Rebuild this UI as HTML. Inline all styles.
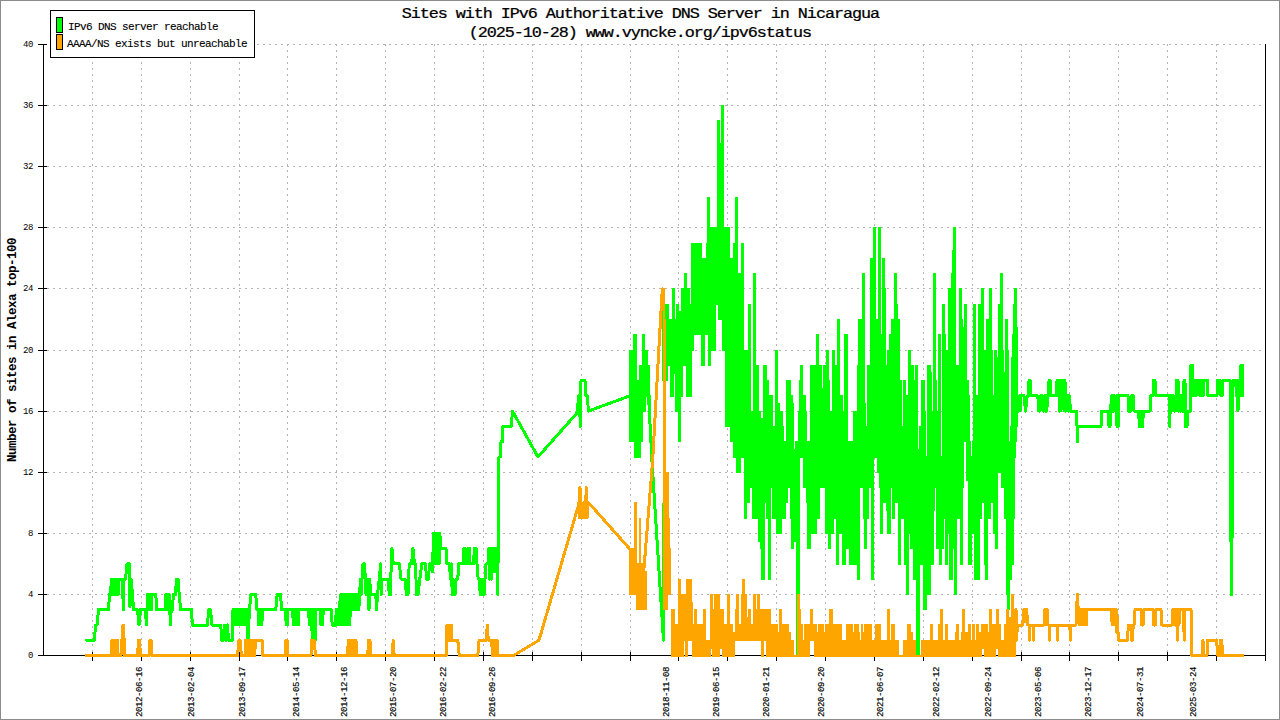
<!DOCTYPE html>
<html><head><meta charset="utf-8"><title>Sites with IPv6 Authoritative DNS Server in Nicaragua</title>
<style>
html,body{margin:0;padding:0;background:#fff;}
body{width:1280px;height:720px;overflow:hidden;position:relative;font-family:"Liberation Mono",monospace;}
svg{position:absolute;left:0;top:0;}
text{font-family:"Liberation Mono",monospace;fill:#000;}
.t{font-size:15px;letter-spacing:-0.96px;text-anchor:middle;stroke:#000;stroke-width:0.25px;}
.lg{font-size:11px;letter-spacing:-0.6px;stroke:#000;stroke-width:0.12px;}
.yl{font-size:9px;letter-spacing:-0.4px;text-anchor:end;}
.xl{font-size:9px;letter-spacing:-0.4px;text-anchor:end;stroke:#000;stroke-width:0.15px;}
.yt{font-size:12.5px;letter-spacing:-0.5px;font-weight:bold;text-anchor:middle;}
</style></head><body>
<svg width="1280" height="720" viewBox="0 0 1280 720">
<rect x="0" y="0" width="1280" height="720" fill="#fff"/>
<g stroke="#b4b4b4" stroke-width="1" stroke-dasharray="2 4" shape-rendering="crispEdges"><line x1="47" y1="594.5" x2="1265" y2="594.5"/><line x1="47" y1="533.5" x2="1265" y2="533.5"/><line x1="47" y1="472.5" x2="1265" y2="472.5"/><line x1="47" y1="411.5" x2="1265" y2="411.5"/><line x1="47" y1="350.5" x2="1265" y2="350.5"/><line x1="47" y1="288.5" x2="1265" y2="288.5"/><line x1="47" y1="227.5" x2="1265" y2="227.5"/><line x1="47" y1="166.5" x2="1265" y2="166.5"/><line x1="47" y1="105.5" x2="1265" y2="105.5"/><line x1="53" y1="44.5" x2="1265" y2="44.5"/><line x1="92.5" y1="44" x2="92.5" y2="652" stroke-dashoffset="0"/><line x1="141.5" y1="44" x2="141.5" y2="652" stroke-dashoffset="0"/><line x1="190.5" y1="44" x2="190.5" y2="652" stroke-dashoffset="0"/><line x1="239.5" y1="44" x2="239.5" y2="652" stroke-dashoffset="0"/><line x1="287.5" y1="44" x2="287.5" y2="652" stroke-dashoffset="0"/><line x1="336.5" y1="44" x2="336.5" y2="652" stroke-dashoffset="0"/><line x1="385.5" y1="44" x2="385.5" y2="652" stroke-dashoffset="0"/><line x1="434.5" y1="44" x2="434.5" y2="652" stroke-dashoffset="0"/><line x1="483.5" y1="44" x2="483.5" y2="652" stroke-dashoffset="0"/><line x1="532.5" y1="44" x2="532.5" y2="652" stroke-dashoffset="0"/><line x1="581.5" y1="44" x2="581.5" y2="652" stroke-dashoffset="0"/><line x1="630.5" y1="44" x2="630.5" y2="652" stroke-dashoffset="0"/><line x1="678.5" y1="44" x2="678.5" y2="652" stroke-dashoffset="0"/><line x1="727.5" y1="44" x2="727.5" y2="652" stroke-dashoffset="0"/><line x1="776.5" y1="44" x2="776.5" y2="652" stroke-dashoffset="0"/><line x1="825.5" y1="44" x2="825.5" y2="652" stroke-dashoffset="0"/><line x1="874.5" y1="44" x2="874.5" y2="652" stroke-dashoffset="0"/><line x1="923.5" y1="44" x2="923.5" y2="652" stroke-dashoffset="0"/><line x1="972.5" y1="44" x2="972.5" y2="652" stroke-dashoffset="0"/><line x1="1021.5" y1="44" x2="1021.5" y2="652" stroke-dashoffset="0"/><line x1="1069.5" y1="44" x2="1069.5" y2="652" stroke-dashoffset="0"/><line x1="1118.5" y1="44" x2="1118.5" y2="652" stroke-dashoffset="0"/><line x1="1167.5" y1="44" x2="1167.5" y2="652" stroke-dashoffset="0"/><line x1="1216.5" y1="44" x2="1216.5" y2="652" stroke-dashoffset="0"/><line x1="1265.5" y1="44" x2="1265.5" y2="652" stroke-dashoffset="0"/></g>
<g stroke="#000" stroke-width="1" shape-rendering="crispEdges"><line x1="43.5" y1="44" x2="43.5" y2="656"/><line x1="43" y1="655.5" x2="1266" y2="655.5"/><line x1="1265.5" y1="44" x2="1265.5" y2="656"/><line x1="38" y1="655.5" x2="47" y2="655.5"/><line x1="38" y1="594.5" x2="47" y2="594.5"/><line x1="38" y1="533.5" x2="47" y2="533.5"/><line x1="38" y1="472.5" x2="47" y2="472.5"/><line x1="38" y1="411.5" x2="47" y2="411.5"/><line x1="38" y1="350.5" x2="47" y2="350.5"/><line x1="38" y1="288.5" x2="47" y2="288.5"/><line x1="38" y1="227.5" x2="47" y2="227.5"/><line x1="38" y1="166.5" x2="47" y2="166.5"/><line x1="38" y1="105.5" x2="47" y2="105.5"/><line x1="38" y1="44.5" x2="47" y2="44.5"/><line x1="92.5" y1="652" x2="92.5" y2="661"/><line x1="141.5" y1="652" x2="141.5" y2="661"/><line x1="190.5" y1="652" x2="190.5" y2="661"/><line x1="239.5" y1="652" x2="239.5" y2="661"/><line x1="287.5" y1="652" x2="287.5" y2="661"/><line x1="336.5" y1="652" x2="336.5" y2="661"/><line x1="385.5" y1="652" x2="385.5" y2="661"/><line x1="434.5" y1="652" x2="434.5" y2="661"/><line x1="483.5" y1="652" x2="483.5" y2="661"/><line x1="532.5" y1="652" x2="532.5" y2="661"/><line x1="581.5" y1="652" x2="581.5" y2="661"/><line x1="630.5" y1="652" x2="630.5" y2="661"/><line x1="678.5" y1="652" x2="678.5" y2="661"/><line x1="727.5" y1="652" x2="727.5" y2="661"/><line x1="776.5" y1="652" x2="776.5" y2="661"/><line x1="825.5" y1="652" x2="825.5" y2="661"/><line x1="874.5" y1="652" x2="874.5" y2="661"/><line x1="923.5" y1="652" x2="923.5" y2="661"/><line x1="972.5" y1="652" x2="972.5" y2="661"/><line x1="1021.5" y1="652" x2="1021.5" y2="661"/><line x1="1069.5" y1="652" x2="1069.5" y2="661"/><line x1="1118.5" y1="652" x2="1118.5" y2="661"/><line x1="1167.5" y1="652" x2="1167.5" y2="661"/><line x1="1216.5" y1="652" x2="1216.5" y2="661"/><line x1="1265.5" y1="652" x2="1265.5" y2="661"/></g>
<polyline fill="none" stroke="#00ff00" stroke-width="3" stroke-linejoin="round" stroke-linecap="round" shape-rendering="crispEdges" points="86.4,640.2 94.5,640.2 95.5,625.0 97.0,625.0 98.5,609.7 108.5,609.7 109.5,594.4 110.5,594.4 111.5,579.1 112.0,594.4 112.8,579.1 113.6,594.4 114.4,579.1 115.2,594.4 116.0,579.1 116.8,594.4 117.6,579.1 118.4,594.4 118.8,579.1 122.5,579.1 123.3,609.7 124.0,579.1 125.5,579.1 127.0,563.9 129.5,563.9 130.0,606.6 131.0,579.1 132.5,594.4 133.5,609.7 137.5,609.7 139.0,625.0 140.5,609.7 145.5,609.7 146.4,625.0 147.5,594.4 148.2,609.7 149.0,594.4 149.8,609.7 150.6,594.4 151.4,609.7 152.0,594.4 155.8,594.4 156.6,609.7 165.3,609.7 166.0,594.4 166.8,609.7 167.6,594.4 168.4,609.7 169.2,594.4 170.4,625.0 171.2,609.7 172.5,609.7 173.3,594.4 175.5,594.4 176.5,579.1 178.0,579.1 179.2,594.4 180.6,609.7 191.6,609.7 192.3,625.0 207.6,625.0 208.5,609.7 210.5,609.7 212.0,625.0 220.7,625.0 221.8,640.2 223.5,640.2 224.4,625.0 225.2,640.2 226.0,625.0 226.8,640.2 227.6,625.0 228.4,640.2 232.4,640.2 233.0,609.7 233.8,625.0 234.6,609.7 235.4,625.0 236.2,609.7 237.0,625.0 237.8,609.7 238.6,625.0 239.4,609.7 240.2,625.0 241.0,609.7 241.8,625.0 242.6,609.7 243.4,625.0 244.2,609.7 245.0,625.0 245.8,609.7 246.6,625.0 247.4,609.7 248.0,640.2 249.5,609.7 250.8,594.4 255.7,594.4 257.0,609.7 258.3,609.7 258.8,625.0 259.6,609.7 260.4,625.0 261.2,609.7 261.8,625.0 262.6,609.7 275.8,609.7 277.2,594.4 280.7,594.4 281.4,609.7 285.5,609.7 286.2,625.0 287.0,609.7 287.6,625.0 288.0,609.7 292.5,609.7 293.5,625.0 294.3,609.7 295.1,625.0 295.9,609.7 296.7,625.0 297.5,609.7 298.3,625.0 299.1,609.7 300.0,609.7 308.5,609.7 309.5,625.0 310.2,609.7 311.0,625.0 311.6,609.7 312.2,640.2 313.0,609.7 313.8,640.2 314.5,609.7 315.2,640.2 316.0,609.7 320.3,609.7 321.0,625.0 322.0,609.7 322.6,625.0 323.2,609.7 331.4,609.7 332.2,625.0 335.5,625.0 336.3,609.7 337.0,625.0 337.8,609.7 338.6,625.0 339.4,602.0 340.2,625.0 341.0,594.4 341.8,625.0 342.6,594.4 343.4,625.0 344.2,594.4 345.0,625.0 345.8,594.4 346.6,625.0 347.4,594.4 348.2,625.0 349.0,594.4 349.8,625.0 350.6,594.4 351.6,594.4 352.4,609.7 353.2,594.4 354.0,609.7 354.8,594.4 355.6,609.7 356.4,594.4 357.2,609.7 358.0,594.4 358.8,609.7 359.6,594.4 360.5,579.1 361.3,594.4 362.0,579.1 363.0,563.9 364.5,563.9 365.4,579.1 366.0,594.4 366.8,579.1 367.6,594.4 368.4,579.1 369.0,609.7 369.8,579.1 370.5,594.4 371.7,594.4 375.8,594.4 376.5,609.7 377.5,594.4 379.3,579.1 380.7,563.9 381.3,594.4 382.0,579.1 388.0,579.1 389.3,594.4 390.5,594.4 391.2,563.9 392.0,548.6 393.2,563.9 394.6,563.9 399.4,563.9 401.0,579.1 405.0,579.1 406.5,594.4 408.0,594.4 409.2,563.9 411.5,563.9 413.0,548.6 414.5,563.9 415.5,563.9 416.5,594.4 418.0,594.4 419.8,579.1 421.8,563.9 425.5,563.9 426.6,579.1 428.5,579.1 429.5,563.9 431.5,563.9 432.5,571.5 433.5,533.3 434.3,563.9 435.1,533.3 435.9,563.9 436.7,533.3 437.5,563.9 438.3,533.3 439.1,563.9 439.9,533.3 440.5,548.6 446.0,548.6 447.0,563.9 449.5,563.9 450.5,579.1 451.5,563.9 452.2,594.4 453.0,579.1 453.8,594.4 455.0,594.4 456.0,579.1 457.8,579.1 458.7,563.9 463.0,563.9 463.8,548.6 465.2,548.6 465.8,563.9 468.0,563.9 468.6,548.6 469.4,548.6 470.0,563.9 473.6,563.9 474.3,548.6 476.2,548.6 477.0,563.9 478.2,579.1 479.5,579.1 480.2,594.4 481.0,579.1 481.8,594.4 482.6,579.1 483.4,594.4 484.2,594.4 485.0,579.1 486.0,563.9 488.0,563.9 488.9,548.6 489.7,579.1 490.5,548.6 491.3,579.1 492.1,548.6 492.9,563.9 493.7,548.6 494.5,571.5 495.3,548.6 496.1,563.9 496.9,548.6 497.7,594.4 498.5,518.0 499.0,456.9 500.5,456.9 501.0,441.6 502.5,441.6 503.0,426.4 511.3,426.4 512.5,411.1 538.0,456.9 578.7,411.1 577.5,411.1 578.5,395.8 579.6,395.8 580.2,426.4 581.0,380.6 585.0,380.6 585.8,395.8 587.5,395.8 588.3,411.1 630.0,395.8"/>
<path fill="#00ff00" shape-rendering="crispEdges" d="M629 350H633V442H629ZM633 334H634V442H633ZM634 334H637V458H634ZM637 380H639V458H637ZM639 365H641V458H639ZM641 365H642V442H641ZM642 334H643V442H642ZM643 334H645V412H643ZM645 350H646V412H645ZM646 350H648V397H646ZM648 365H650V412H648ZM650 395H651V412H650ZM662 304H668V381H662ZM668 304H669V366H668ZM669 319H670V366H669ZM670 319H672V397H670ZM672 288H674V397H672ZM674 288H675V374H674ZM675 319H676V412H675ZM676 304H678V412H676ZM678 304H679V442H678ZM679 311H681V442H679ZM681 288H683V397H681ZM683 288H684V366H683ZM684 273H686V366H684ZM686 273H687V397H686ZM687 288H690V397H687ZM690 304H691V397H690ZM691 243H692V397H691ZM692 243H694V351H692ZM694 243H701V335H694ZM701 243H702V366H701ZM702 258H705V366H702ZM705 258H706V335H705ZM706 243H707V335H706ZM707 197H708V335H707ZM708 197H710V366H708ZM710 227H711V366H710ZM711 227H716V351H711ZM716 227H717V305H716ZM717 120H718V305H717ZM718 120H720V320H718ZM720 143H721V320H720ZM721 105H722V320H721ZM722 105H724V351H722ZM724 227H725V351H724ZM725 227H730V427H725ZM730 258H733V442H730ZM733 243H735V458H733ZM735 197H736V458H735ZM736 197H738V473H736ZM738 273H741V473H738ZM741 243H744V458H741ZM744 350H747V519H744ZM747 350H748V503H747ZM748 304H750V503H748ZM750 304H751V488H750ZM751 411H752V488H751ZM752 411H753V519H752ZM753 273H756V519H753ZM756 365H758V519H756ZM758 365H759V542H758ZM759 411H760V542H759ZM760 411H761V549H760ZM761 418H763V580H761ZM763 365H765V580H763ZM765 365H766V503H765ZM766 365H767V519H766ZM767 380H768V519H767ZM768 380H769V580H768ZM769 395H771V580H769ZM771 395H772V488H771ZM772 395H773V519H772ZM773 426H775V519H773ZM775 350H776V519H775ZM776 350H778V534H776ZM778 403H780V534H778ZM780 411H782V534H780ZM782 411H783V519H782ZM783 426H784V519H783ZM784 441H786V519H784ZM786 380H788V503H786ZM788 380H790V488H788ZM790 380H791V519H790ZM791 395H793V549H791ZM793 403H794V549H793ZM794 449H795V542H794ZM795 441H796V542H795ZM796 441H797V657H796ZM797 441H798V595H797ZM798 411H799V595H798ZM799 380H800V595H799ZM800 365H803V458H800ZM803 395H806V488H803ZM806 411H807V503H806ZM807 441H810V549H807ZM810 365H811V549H810ZM811 365H816V534H811ZM816 334H817V534H816ZM817 334H819V519H817ZM819 365H820V519H819ZM820 365H822V488H820ZM822 388H823V488H822ZM823 365H825V488H823ZM825 365H826V534H825ZM826 350H828V534H826ZM828 350H829V549H828ZM829 380H830V549H829ZM830 411H831V549H830ZM831 411H832V534H831ZM832 350H834V534H832ZM834 350H835V519H834ZM835 365H836V519H835ZM836 365H837V565H836ZM837 319H839V565H837ZM839 319H840V534H839ZM840 395H842V534H840ZM842 395H843V565H842ZM843 411H844V565H843ZM844 334H846V565H844ZM846 334H848V549H846ZM848 441H849V549H848ZM849 441H853V565H849ZM853 411H857V565H853ZM857 365H858V580H857ZM858 319H860V580H858ZM860 319H862V488H860ZM862 273H863V488H862ZM863 273H864V519H863ZM864 273H865V549H864ZM865 403H866V549H865ZM866 426H867V549H866ZM867 365H869V519H867ZM869 365H870V488H869ZM870 258H871V488H870ZM871 258H873V580H871ZM873 227H874V580H873ZM874 227H876V458H874ZM876 319H877V458H876ZM877 319H878V473H877ZM878 227H879V473H878ZM879 227H880V488H879ZM880 227H881V534H880ZM881 334H882V534H881ZM882 258H883V534H882ZM883 258H885V503H883ZM885 288H886V503H885ZM886 365H887V511H886ZM887 350H889V534H887ZM889 334H891V534H889ZM891 319H892V488H891ZM892 319H894V519H892ZM894 273H895V519H894ZM895 273H897V503H895ZM897 304H898V503H897ZM898 319H900V565H898ZM900 380H901V565H900ZM901 380H902V519H901ZM902 426H903V519H902ZM903 380H904V519H903ZM904 380H906V565H904ZM906 395H908V595H906ZM908 350H909V595H908ZM909 350H910V534H909ZM910 350H911V549H910ZM911 365H913V549H911ZM913 365H914V580H913ZM914 380H915V580H914ZM915 365H916V580H915ZM916 365H918V657H916ZM918 449H919V657H918ZM919 426H920V657H919ZM920 426H921V565H920ZM921 380H923V565H921ZM923 380H925V610H923ZM925 411H926V610H925ZM926 456H927V610H926ZM927 365H931V595H927ZM931 372H932V565H931ZM932 411H933V565H932ZM933 273H934V565H933ZM934 273H935V511H934ZM935 273H936V488H935ZM936 380H937V549H936ZM937 411H938V549H937ZM938 334H939V549H938ZM939 334H941V565H939ZM941 456H942V565H941ZM942 304H944V549H942ZM944 304H945V519H944ZM945 334H946V565H945ZM946 350H948V565H946ZM948 288H949V534H948ZM949 288H951V580H949ZM951 273H952V580H951ZM952 250H953V580H952ZM953 227H954V549H953ZM954 227H956V595H954ZM956 365H957V595H956ZM957 365H959V519H957ZM959 288H960V519H959ZM960 288H962V565H960ZM962 319H963V565H962ZM963 327H964V488H963ZM964 304H966V442H964ZM966 304H967V481H966ZM967 380H968V481H967ZM968 380H969V565H968ZM969 395H970V565H969ZM970 441H971V565H970ZM971 456H972V565H971ZM972 441H973V534H972ZM973 304H974V534H973ZM974 304H976V580H974ZM976 395H978V580H976ZM978 304H980V580H978ZM980 304H981V519H980ZM981 288H982V519H981ZM982 288H984V503H982ZM984 350H985V565H984ZM985 350H986V580H985ZM986 319H988V580H986ZM988 319H989V519H988ZM989 288H991V519H989ZM991 288H992V503H991ZM992 350H993V503H992ZM993 395H994V534H993ZM994 350H995V534H994ZM995 350H997V549H995ZM997 357H998V549H997ZM998 304H1000V473H998ZM1000 273H1001V473H1000ZM1001 273H1003V488H1001ZM1003 350H1004V488H1003ZM1004 372H1005V519H1004ZM1005 319H1006V519H1005ZM1006 319H1007V595H1006ZM1007 319H1008V610H1007ZM1008 350H1009V610H1008ZM1009 441H1010V610H1009ZM1010 426H1011V580H1010ZM1011 357H1012V580H1011ZM1012 334H1013V565H1012ZM1013 304H1014V565H1013ZM1014 288H1015V519H1014ZM1015 288H1016V458H1015ZM1016 288H1017V442H1016ZM1017 327H1018V427H1017Z"/>
<polyline fill="none" stroke="#00ff00" stroke-width="3" stroke-linejoin="round" stroke-linecap="round" shape-rendering="crispEdges" points="648.5,395.8 652.0,461.5 660.5,594.4 663.5,640.2 664.6,350.0"/>
<polyline fill="none" stroke="#00ff00" stroke-width="3" stroke-linejoin="round" stroke-linecap="round" shape-rendering="crispEdges" points="1017.6,395.8 1018.5,411.1 1019.3,395.8 1020.0,411.1 1020.8,395.8 1024.0,395.8 1025.5,411.1 1027.2,395.8 1028.5,395.8 1029.0,380.6 1030.3,380.6 1030.8,395.8 1037.8,395.8 1038.8,411.1 1040.0,411.1 1040.8,395.8 1042.8,395.8 1043.6,411.1 1044.4,395.8 1045.2,411.1 1046.0,395.8 1046.8,411.1 1047.6,395.8 1048.6,395.8 1049.0,380.6 1050.3,380.6 1051.0,395.8 1056.5,395.8 1057.0,380.6 1057.8,395.8 1058.6,380.6 1059.4,411.1 1060.2,380.6 1061.0,411.1 1061.8,380.6 1062.6,395.8 1063.4,380.6 1064.2,411.1 1065.0,380.6 1065.5,411.1 1066.3,395.8 1067.1,411.1 1067.9,395.8 1068.7,411.1 1069.5,395.8 1070.4,411.1 1076.7,411.1 1077.0,426.4 1077.5,441.6 1078.0,426.4 1101.0,426.4 1101.7,411.1 1108.3,411.1 1109.0,426.4 1110.0,426.4 1110.7,411.1 1111.4,395.8 1112.2,411.1 1113.0,395.8 1113.8,411.1 1114.6,395.8 1115.4,411.1 1116.3,395.8 1117.0,426.4 1117.8,395.8 1118.4,426.4 1119.0,395.8 1128.0,395.8 1128.7,411.1 1131.0,411.1 1131.6,395.8 1133.2,395.8 1134.0,411.1 1138.5,411.1 1139.5,426.4 1140.3,411.1 1141.0,426.4 1141.8,411.1 1142.6,426.4 1143.4,411.1 1150.0,411.1 1150.6,395.8 1153.0,395.8 1153.3,380.6 1155.0,380.6 1156.0,395.8 1169.0,395.8 1169.7,426.4 1170.5,395.8 1171.3,411.1 1172.1,395.8 1172.9,411.1 1173.7,395.8 1174.5,411.1 1175.3,395.8 1176.0,411.1 1176.6,380.6 1178.0,380.6 1178.7,411.1 1179.5,395.8 1180.3,411.1 1181.1,395.8 1182.0,411.1 1183.5,411.1 1184.0,380.6 1185.0,380.6 1185.5,426.4 1187.0,426.4 1187.8,411.1 1190.3,411.1 1191.0,365.3 1192.3,365.3 1193.0,395.8 1193.8,380.6 1194.6,395.8 1195.4,380.6 1196.2,395.8 1197.0,380.6 1199.0,380.6 1199.8,395.8 1200.6,380.6 1201.4,395.8 1202.2,380.6 1203.0,395.8 1203.8,380.6 1207.5,380.6 1208.0,395.8 1217.0,395.8 1217.6,380.6 1220.0,380.6 1220.8,395.8 1222.0,395.8 1222.8,380.6 1230.2,380.6 1230.5,487.5 1231.5,594.4 1232.5,487.5 1232.8,380.6 1235.7,380.6 1236.5,395.8 1237.3,380.6 1238.0,411.1 1238.8,380.6 1239.6,395.8 1240.5,380.6 1241.0,365.3 1242.0,365.3 1242.5,395.8 1243.0,365.3"/>
<polyline fill="none" stroke="#ffa500" stroke-width="3" stroke-linejoin="round" stroke-linecap="round" shape-rendering="crispEdges" points="86.4,655.5 111.4,655.5 111.8,640.2 112.5,655.5 113.2,640.2 113.9,655.5 114.6,640.2 115.3,655.5 116.0,640.2 116.7,655.5 117.4,640.2 118.1,655.5 119.0,655.5 121.0,655.5 121.6,640.2 122.6,640.2 123.0,625.0 123.8,625.0 124.3,655.5 137.5,655.5 138.6,640.2 139.8,640.2 140.2,655.5 149.3,655.5 149.8,640.2 151.0,640.2 152.0,655.5 237.5,655.5 239.0,640.2 240.0,640.2 241.5,655.5 245.0,655.5 245.5,640.2 246.2,655.5 246.9,640.2 247.6,655.5 248.3,640.2 249.0,655.5 249.7,640.2 250.4,655.5 251.1,640.2 251.8,655.5 252.5,640.2 253.2,655.5 253.9,640.2 254.6,655.5 255.5,640.2 262.2,640.2 262.8,655.5 285.5,655.5 286.0,640.2 287.2,640.2 287.6,655.5 311.0,655.5 311.6,640.2 314.2,640.2 315.5,655.5 347.5,655.5 348.3,640.2 350.0,640.2 350.5,655.5 351.5,655.5 352.2,640.2 353.0,655.5 353.6,640.2 354.2,655.5 354.8,640.2 355.4,655.5 356.0,640.2 356.6,655.5 367.8,655.5 368.4,640.2 370.0,640.2 370.5,655.5 392.3,655.5 393.2,640.2 394.2,655.5 446.2,655.5 447.0,625.0 447.7,640.2 448.4,625.0 449.1,640.2 449.8,625.0 450.5,640.2 451.2,625.0 452.0,640.2 457.8,640.2 459.3,655.5 477.8,655.5 479.1,640.2 486.3,640.2 487.3,625.0 488.3,640.2 491.8,640.2 492.3,655.5 493.0,640.2 493.7,655.5 494.4,640.2 495.1,655.5 495.8,640.2 496.5,655.5 497.2,640.2 498.0,655.5 513.5,655.5 539.0,640.2 579.2,502.8 578.5,502.8 579.3,518.0 580.0,487.5 580.8,518.0 581.6,502.8 582.4,518.0 583.2,502.8 584.0,518.0 584.8,502.8 585.5,518.0 586.2,487.5 587.0,518.0 587.8,502.8 588.7,502.8 629.4,548.6"/>
<path fill="#ffa500" shape-rendering="crispEdges" d="M629 548H634V595H629ZM634 502H636V595H634ZM636 502H637V610H636ZM637 563H639V610H637ZM639 518H641V610H639ZM641 563H643V610H641ZM643 571H647V610H643ZM663 288H665V610H663ZM665 319H666V610H665ZM666 472H668V610H666ZM668 472H669V595H668ZM669 518H670V595H669ZM670 548H671V595H670ZM671 609H675V657H671ZM675 624H678V657H675ZM678 579H681V657H678ZM681 594H684V657H681ZM684 594H685V641H684ZM685 594H686V657H685ZM686 579H688V657H686ZM688 579H692V641H688ZM692 602H693V657H692ZM693 624H694V657H693ZM694 609H697V657H694ZM697 624H703V657H697ZM703 609H706V657H703ZM706 640H710V657H706ZM710 594H711V657H710ZM711 594H712V649H711ZM712 594H713V657H712ZM713 609H714V657H713ZM714 594H720V657H714ZM720 609H722V649H720ZM722 609H724V657H722ZM724 624H727V657H724ZM727 594H730V657H727ZM730 624H733V657H730ZM733 632H735V657H733ZM735 609H736V641H735ZM736 594H739V641H736ZM739 624H741V641H739ZM741 594H742V641H741ZM742 579H745V641H742ZM745 594H747V641H745ZM747 617H748V641H747ZM748 609H751V641H748ZM751 624H753V641H751ZM753 594H756V641H753ZM756 609H757V641H756ZM757 594H760V641H757ZM760 609H761V641H760ZM761 609H764V657H761ZM764 609H766V641H764ZM766 609H771V657H766ZM771 624H778V657H771ZM778 632H779V657H778ZM779 609H782V657H779ZM782 624H789V657H782ZM789 632H791V657H789ZM791 640H794V657H791ZM794 655H797V657H794ZM797 594H800V657H797ZM800 609H801V657H800ZM801 624H803V657H801ZM803 640H804V657H803ZM804 624H810V657H804ZM810 609H813V641H810ZM813 624H814V641H813ZM814 624H817V657H814ZM817 632H818V657H817ZM818 624H824V657H818ZM824 632H825V657H824ZM825 624H829V657H825ZM829 609H833V657H829ZM833 624H842V657H833ZM842 640H846V657H842ZM846 624H853V657H846ZM853 632H854V657H853ZM854 624H859V657H854ZM859 632H860V657H859ZM860 640H861V657H860ZM861 624H863V657H861ZM863 632H864V657H863ZM864 624H872V657H864ZM872 640H875V657H872ZM875 624H881V657H875ZM881 640H887V657H881ZM887 609H890V657H887ZM890 640H891V657H890ZM891 624H895V657H891ZM895 640H899V657H895ZM899 655H903V657H899ZM903 640H907V657H903ZM907 624H911V657H907ZM911 632H913V657H911ZM913 640H916V657H913ZM916 655H921V657H916ZM921 640H930V657H921ZM930 624H933V657H930ZM933 640H938V657H933ZM938 624H940V657H938ZM940 609H943V657H940ZM943 640H945V657H943ZM945 624H948V657H945ZM948 640H955V657H948ZM955 632H956V657H955ZM956 624H959V657H956ZM959 640H961V657H959ZM961 632H962V657H961ZM962 609H965V657H962ZM965 632H968V657H965ZM968 624H971V657H968ZM971 640H972V657H971ZM972 624H975V657H972ZM975 640H976V657H975ZM976 624H979V657H976ZM979 632H981V657H979ZM981 624H982V657H981ZM982 624H984V649H982ZM984 624H988V657H984ZM988 632H989V657H988ZM989 609H992V657H989ZM992 624H996V657H992ZM996 609H998V649H996ZM998 609H999V657H998ZM999 624H1001V657H999ZM1001 640H1004V657H1001ZM1004 624H1006V657H1004ZM1006 609H1009V657H1006ZM1009 617H1011V657H1009ZM1011 594H1014V657H1011ZM1014 609H1016V657H1014Z"/>
<polyline fill="none" stroke="#ffa500" stroke-width="3" stroke-linejoin="round" stroke-linecap="round" shape-rendering="crispEdges" points="643.6,573.0 652.7,460.0 659.3,340.8 662.3,288.9"/>
<polyline fill="none" stroke="#ffa500" stroke-width="3" stroke-linejoin="round" stroke-linecap="round" shape-rendering="crispEdges" points="1016.0,609.7 1016.6,640.2 1017.4,625.0 1022.8,625.0 1023.6,609.7 1024.3,621.9 1025.2,609.7 1026.6,609.7 1027.8,625.0 1029.2,625.0 1029.6,640.2 1030.0,625.0 1033.0,625.0 1033.4,640.2 1033.8,625.0 1044.2,625.0 1044.9,609.7 1047.1,609.7 1047.8,625.0 1049.0,625.0 1049.4,640.2 1049.8,625.0 1057.0,625.0 1057.4,640.2 1057.8,625.0 1069.9,625.0 1070.3,640.2 1070.7,625.0 1076.0,625.0 1076.5,609.7 1077.4,594.4 1078.2,609.7 1079.0,609.7 1079.8,625.0 1080.6,609.7 1081.4,625.0 1082.2,609.7 1083.0,625.0 1083.8,609.7 1084.6,625.0 1085.4,609.7 1086.2,625.0 1086.8,609.7 1111.4,609.7 1112.2,625.0 1113.0,609.7 1113.8,625.0 1114.6,609.7 1115.4,625.0 1116.2,609.7 1116.8,632.6 1117.5,617.3 1118.3,640.2 1127.6,640.2 1128.3,625.0 1131.0,625.0 1131.5,640.2 1132.5,640.2 1133.2,625.0 1134.0,625.0 1135.0,609.7 1141.0,609.7 1141.6,625.0 1143.0,625.0 1143.6,609.7 1153.0,609.7 1153.6,625.0 1155.2,625.0 1155.8,609.7 1161.0,609.7 1161.7,625.0 1172.0,625.0 1172.6,609.7 1173.4,625.0 1174.2,609.7 1175.0,625.0 1175.8,609.7 1176.6,609.7 1177.3,640.2 1178.0,609.7 1179.0,625.0 1179.7,609.7 1183.5,609.7 1184.2,640.2 1184.9,609.7 1191.0,609.7 1192.0,655.5 1202.0,655.5 1203.0,640.2 1203.6,655.5 1207.0,655.5 1207.6,640.2 1216.5,640.2 1218.0,655.5 1220.0,655.5 1220.6,640.2 1221.8,640.2 1222.5,655.5 1243.0,655.5"/>
<text class="yl" x="33" y="658.0">0</text><text class="yl" x="33" y="596.9">4</text><text class="yl" x="33" y="535.8">8</text><text class="yl" x="33" y="474.7">12</text><text class="yl" x="33" y="413.6">16</text><text class="yl" x="33" y="352.5">20</text><text class="yl" x="33" y="291.4">24</text><text class="yl" x="33" y="230.3">28</text><text class="yl" x="33" y="169.2">32</text><text class="yl" x="33" y="108.1">36</text><text class="yl" x="33" y="47.0">40</text>
<text class="xl" transform="translate(138.5,667) rotate(-90)" x="0" y="3">2012-06-16</text><text class="xl" transform="translate(191.0,667) rotate(-90)" x="0" y="3">2013-02-04</text><text class="xl" transform="translate(242.0,667) rotate(-90)" x="0" y="3">2013-09-17</text><text class="xl" transform="translate(296.0,667) rotate(-90)" x="0" y="3">2014-05-14</text><text class="xl" transform="translate(344.0,667) rotate(-90)" x="0" y="3">2014-12-16</text><text class="xl" transform="translate(393.0,667) rotate(-90)" x="0" y="3">2015-07-20</text><text class="xl" transform="translate(442.5,667) rotate(-90)" x="0" y="3">2016-02-22</text><text class="xl" transform="translate(492.0,667) rotate(-90)" x="0" y="3">2016-09-26</text><text class="xl" transform="translate(666.0,667) rotate(-90)" x="0" y="3">2018-11-08</text><text class="xl" transform="translate(716.0,667) rotate(-90)" x="0" y="3">2019-06-15</text><text class="xl" transform="translate(766.0,667) rotate(-90)" x="0" y="3">2020-01-21</text><text class="xl" transform="translate(821.0,667) rotate(-90)" x="0" y="3">2020-09-20</text><text class="xl" transform="translate(880.0,667) rotate(-90)" x="0" y="3">2021-06-07</text><text class="xl" transform="translate(936.0,667) rotate(-90)" x="0" y="3">2022-02-12</text><text class="xl" transform="translate(987.5,667) rotate(-90)" x="0" y="3">2022-09-24</text><text class="xl" transform="translate(1038.0,667) rotate(-90)" x="0" y="3">2023-05-06</text><text class="xl" transform="translate(1088.0,667) rotate(-90)" x="0" y="3">2023-12-17</text><text class="xl" transform="translate(1140.0,667) rotate(-90)" x="0" y="3">2024-07-31</text><text class="xl" transform="translate(1193.0,667) rotate(-90)" x="0" y="3">2025-03-24</text>
<text class="yt" transform="translate(16,350) rotate(-90)" x="0" y="0">Number of sites in Alexa top-100</text>
<text class="t" transform="translate(640.3,18) scale(1.12,0.93)" x="0" y="0">Sites with IPv6 Authoritative DNS Server in Nicaragua</text>
<text class="t" transform="translate(639.8,36.5) scale(1.12,0.93)" x="0" y="0">(2025-10-28) www.vyncke.org/ipv6status</text>
<rect x="50.5" y="10.5" width="204" height="47" fill="#fff" stroke="#000" stroke-width="1" shape-rendering="crispEdges"/>
<rect x="56.5" y="17.5" width="6" height="15" fill="#00ff00" stroke="#000" stroke-width="1" shape-rendering="crispEdges"/>
<rect x="56.5" y="34.5" width="6" height="15" fill="#ffa500" stroke="#000" stroke-width="1" shape-rendering="crispEdges"/>
<text class="lg" x="68" y="29.6">IPv6 DNS server reachable</text>
<text class="lg" x="67" y="46.5">AAAA/NS exists but unreachable</text>
<rect x="0.5" y="0.5" width="1279" height="719" fill="none" stroke="#8c8c8c" stroke-width="1" shape-rendering="crispEdges"/>
</svg>
</body></html>
